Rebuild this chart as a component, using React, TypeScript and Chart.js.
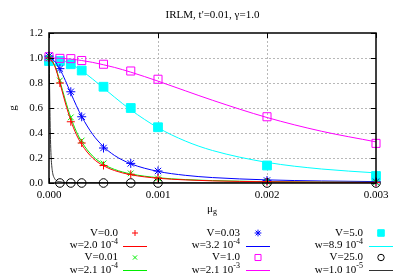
import React, { useEffect, useRef } from 'react';
import { Chart, registerables } from 'chart.js';
import { drawPoint } from 'chart.js/helpers';

Chart.register(...registerables);

const FONT = '"Liberation Serif", "DejaVu Serif", serif';
const TITLE = "IRLM, t'=0.01, γ=1.0";
const X_TICKS = [0, 0.001, 0.002, 0.003];
const Y_TICKS = [0, 0.2, 0.4, 0.6, 0.8, 1.0, 1.2];

// measured points
const muPts = [0, 0.0001, 0.0002, 0.0003, 0.0005, 0.00075, 0.001, 0.002, 0.003];
const gV0 = [1.0, 0.80, 0.49, 0.32, 0.14, 0.07, 0.04, 0.01, 0.005];
const gV001 = [1.0, 0.82, 0.525, 0.34, 0.157, 0.077, 0.037, 0.01, 0.005];
const gV003 = [1.016, 0.915, 0.73, 0.53, 0.28, 0.157, 0.096, 0.02, 0.01];
const gV1 = [1.01, 0.997, 0.995, 0.98, 0.95, 0.896, 0.83, 0.53, 0.317];
const gV5 = [0.976, 0.976, 0.95, 0.90, 0.77, 0.60, 0.446, 0.14, 0.056];
const gV25 = [0.98, 0.0, 0.0, 0.0, 0.0, 0.0, 0.0, 0.0, 0.0];

// fitted curves
const muFit = [0, 0.00005, 0.0001, 0.00015, 0.0002, 0.00025, 0.0003, 0.0004, 0.0005, 0.0006, 0.00075, 0.001, 0.00125, 0.0015, 0.002, 0.0025, 0.003];
const fitW20e4 = [1, 0.941, 0.8, 0.64, 0.5, 0.39, 0.308, 0.2, 0.138, 0.1, 0.066, 0.038, 0.025, 0.017, 0.0099, 0.0064, 0.0044];
const fitW21e4 = [1, 0.946, 0.815, 0.662, 0.524, 0.414, 0.329, 0.216, 0.15, 0.109, 0.0727, 0.0422, 0.0274, 0.0192, 0.0109, 0.007, 0.0049];
const fitW32e4 = [1, 0.976, 0.911, 0.82, 0.719, 0.621, 0.532, 0.39, 0.291, 0.221, 0.154, 0.093, 0.0615, 0.0435, 0.025, 0.0161, 0.0112];
const fitW89e4 = [1, 0.997, 0.988, 0.972, 0.952, 0.927, 0.898, 0.832, 0.76, 0.688, 0.585, 0.442, 0.336, 0.26, 0.165, 0.112, 0.081];
const fitW21e3 = [1, 0.999, 0.998, 0.995, 0.991, 0.986, 0.98, 0.965, 0.946, 0.925, 0.887, 0.815, 0.738, 0.662, 0.524, 0.414, 0.329];
const muFitSharp = [0, 0.0000025, 0.000005, 0.0000075, 0.00001, 0.000015, 0.00002, 0.00003, 0.00005, 0.0001, 0.0002, 0.003];
const fitW10e5 = [1, 0.941, 0.8, 0.64, 0.5, 0.308, 0.2, 0.1, 0.038, 0.0099, 0.0025, 0.0];

const xy = (xs: number[], ys: number[]) => xs.map((x, i) => ({ x, y: ys[i] }));

const RED = '#ff0000';
const GREEN = '#00ee00';
const BLUE = '#0000ff';
const MAGENTA = '#ff00ff';
const CYAN = '#00ffff';
const BLACK = '#000000';

function pts(label: string, ys: number[], color: string, style: string, radius: number, filled: boolean) {
  return {
    label,
    data: xy(muPts, ys),
    showLine: false,
    pointStyle: style,
    pointRadius: radius,
    pointBorderWidth: 1,
    borderColor: color,
    backgroundColor: filled ? color : 'transparent',
    pointBackgroundColor: filled ? color : 'transparent',
    clip: false,
  };
}
function fit(label: string, xs: number[], ys: number[], color: string) {
  return {
    label,
    data: xy(xs, ys),
    pointRadius: 0,
    borderColor: color,
    borderWidth: 1,
    cubicInterpolationMode: 'monotone',
    fill: false,
  };
}

const LEG_TEXT_RIGHT = [118, 240, 363];
const LEG_SAMPLE_X = [135, 258, 381];
const LEG_ROW_Y = [233, 245.5, 257.5, 270];

const deco = {
  id: 'deco',
  afterDraw(chart: any) {
    const { ctx, chartArea: a, scales } = chart;
    ctx.save();
    ctx.strokeStyle = '#000';
    ctx.lineWidth = 1;
    ctx.beginPath();
    for (const v of X_TICKS) {
      const px = Math.round(scales.x.getPixelForValue(v)) + 0.5;
      ctx.moveTo(px, a.bottom); ctx.lineTo(px, a.bottom - 5);
      ctx.moveTo(px, a.top); ctx.lineTo(px, a.top + 5);
    }
    for (const v of Y_TICKS) {
      const py = Math.round(scales.y.getPixelForValue(v)) + 0.5;
      ctx.moveTo(a.left, py); ctx.lineTo(a.left + 5, py);
      ctx.moveTo(a.right, py); ctx.lineTo(a.right - 5, py);
    }
    ctx.stroke();
    ctx.lineWidth = 1.5;
    ctx.strokeRect(a.left, a.top, a.right - a.left, a.bottom - a.top);

    ctx.fillStyle = '#000';
    ctx.font = `11px ${FONT}`;
    ctx.textAlign = 'center';
    ctx.textBaseline = 'middle';
    ctx.fillText(TITLE, (a.left + a.right) / 2, 15);

    // y title
    ctx.save();
    ctx.translate(13, (a.top + a.bottom) / 2);
    ctx.rotate(-Math.PI / 2);
    ctx.fillText('g', 0, 0);
    ctx.restore();

    // x title: mu with subscript g
    ctx.textAlign = 'left';
    ctx.font = `11px ${FONT}`;
    const mw = ctx.measureText('μ').width;
    const xt = 207;
    ctx.fillText('μ', xt, 209);
    ctx.font = `8px ${FONT}`;
    ctx.fillText('g', xt + mw, 212);

    // legend
    chart.data.datasets.forEach((ds: any, i: number) => {
      const col = Math.floor(i / 4);
      const row = i % 4;
      const y = LEG_ROW_Y[row];
      const right = LEG_TEXT_RIGHT[col];
      const parts = String(ds.label).split('^');
      ctx.font = `11px ${FONT}`;
      const bw = ctx.measureText(parts[0]).width;
      let sw = 0;
      if (parts[1]) {
        ctx.font = `8px ${FONT}`;
        sw = ctx.measureText(parts[1]).width;
      }
      ctx.textAlign = 'left';
      ctx.textBaseline = 'middle';
      ctx.fillStyle = '#000';
      ctx.font = `11px ${FONT}`;
      ctx.fillText(parts[0], right - bw - sw, y);
      if (parts[1]) {
        ctx.font = `8px ${FONT}`;
        ctx.fillText(parts[1], right - sw, y - 4);
      }
      const cx = LEG_SAMPLE_X[col];
      if (ds.showLine === false) {
        ctx.strokeStyle = ds.borderColor;
        ctx.fillStyle = ds.pointBackgroundColor;
        ctx.lineWidth = 1;
        drawPoint(ctx, { pointStyle: ds.pointStyle, radius: ds.pointRadius * 0.75, rotation: 0, borderWidth: 1 } as any, cx, y);
      } else {
        ctx.strokeStyle = ds.borderColor;
        ctx.lineWidth = 1;
        ctx.beginPath();
        ctx.moveTo(cx - 12, Math.round(y) + 0.5);
        ctx.lineTo(cx + 12, Math.round(y) + 0.5);
        ctx.stroke();
      }
    });
    ctx.restore();
  },
};

export default function App() {
  const ref = useRef<HTMLCanvasElement>(null);
  useEffect(() => {
    if (!ref.current) return;
    const gridColor = (c: any) =>
      c.index === 0 || c.index === (c.scale.ticks.length - 1) ? 'transparent' : '#b8b8b8';
    const chart = new Chart(ref.current, {
      type: 'line',
      data: {
        datasets: [
          pts('V=0.0', gV0, RED, 'cross', 4, false),
          fit('w=2.0 10^-4', muFit, fitW20e4, RED),
          pts('V=0.01', gV001, GREEN, 'crossRot', 4, false),
          fit('w=2.1 10^-4', muFit, fitW21e4, GREEN),
          pts('V=0.03', gV003, BLUE, 'star', 4.5, false),
          fit('w=3.2 10^-4', muFit, fitW32e4, BLUE),
          pts('V=1.0', gV1, MAGENTA, 'rect', 5.7, false),
          fit('w=2.1 10^-3', muFit, fitW21e3, MAGENTA),
          pts('V=5.0', gV5, CYAN, 'rect', 6.2, true),
          fit('w=8.9 10^-4', muFit, fitW89e4, CYAN),
          pts('V=25.0', gV25, BLACK, 'circle', 4.3, false),
          fit('w=1.0 10^-5', muFitSharp, fitW10e5, '#333333'),
        ] as any,
      },
      options: {
        responsive: false,
        animation: false,
        layout: { padding: { left: 0, right: 19, top: 33, bottom: 0 } },
        plugins: { legend: { display: false }, tooltip: { enabled: false }, title: { display: false } },
        scales: {
          x: {
            type: 'linear',
            min: 0,
            max: 0.003,
            ticks: {
              stepSize: 0.001,
              callback: (v: any) => Number(v).toFixed(3),
              color: '#000',
              font: { family: FONT, size: 11 },
              padding: 6,
              maxRotation: 0,
            },
            grid: { color: gridColor, drawTicks: false, lineWidth: 1 },
            border: { display: false, dash: [2, 2] },
            afterFit: (s: any) => { s.height = 93; },
          },
          y: {
            type: 'linear',
            min: 0,
            max: 1.2,
            ticks: {
              stepSize: 0.2,
              callback: (v: any) => Number(v).toFixed(1),
              color: '#000',
              font: { family: FONT, size: 11 },
              padding: 6,
            },
            grid: { color: gridColor, drawTicks: false, lineWidth: 1 },
            border: { display: false, dash: [2, 2] },
            afterFit: (s: any) => { s.width = 49; },
          },
        },
      } as any,
      plugins: [deco],
    });
    return () => chart.destroy();
  }, []);
  return (
    <div style={{ position: 'fixed', left: 0, top: 0, width: 395, height: 276, background: '#fff' }}>
      <canvas ref={ref} width={395} height={276} style={{ display: 'block' }} />
    </div>
  );
}
